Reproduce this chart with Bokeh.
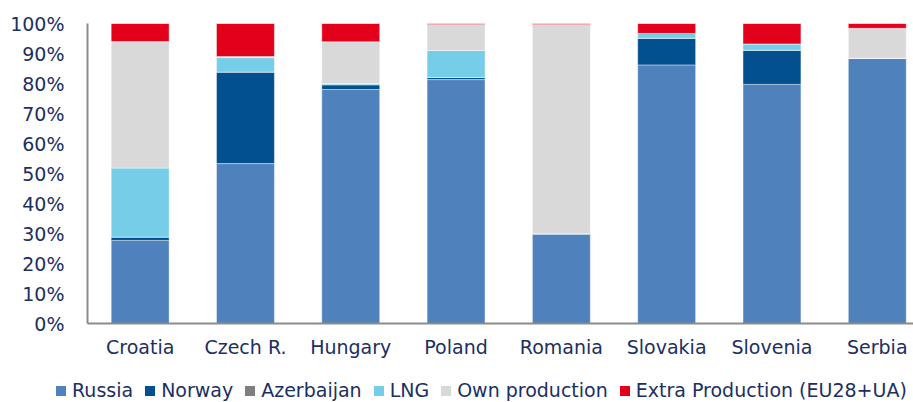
from bokeh.plotting import figure
from bokeh.layouts import column
from bokeh.models import Range1d, FixedTicker, ColumnDataSource, Div
from bokeh.embed import file_html
from bokeh.resources import INLINE

countries = ["Croatia", "Czech R.", "Hungary", "Poland", "Romania", "Slovakia", "Slovenia", "Serbia"]
russia = [27.7, 53.3, 78.0, 81.3, 29.9, 86.2, 79.7, 88.4]
norway = [1.1, 30.5, 1.6, 0.7, 0.0, 8.9, 11.4, 0.0]
azerbaijan = [0, 0, 0, 0, 0, 0, 0, 0]
lng = [23.0, 4.8, 0.4, 9.0, 0.0, 1.6, 2.1, 0.0]
own_production = [42.2, 0.4, 13.9, 8.7, 69.8, 0.0, 0.0, 10.0]
extra_production = [6.0, 11.0, 6.1, 0.3, 0.3, 3.3, 6.8, 1.6]

series = ["Russia", "Norway", "Azerbaijan", "LNG", "Own production", "Extra Production (EU28+UA)"]
colors = ["#4F81BD", "#02508F", "#7F7F7F", "#75CDE8", "#D9D9D9", "#E2001A"]
y_ticks = list(range(0, 101, 10))

FONT = "DejaVu Sans"
TXT = "#1B2F63"

data = {"x": list(range(len(countries))), "Russia": russia, "Norway": norway,
        "Azerbaijan": azerbaijan, "LNG": lng, "Own production": own_production,
        "Extra Production (EU28+UA)": extra_production}
src = ColumnDataSource(data)

p = figure(width=913, height=380, x_range=Range1d(-0.5, 7.344), y_range=Range1d(0, 100),
           output_backend="svg", toolbar_location=None,
           min_border_left=87, min_border_right=0, min_border_top=23, min_border_bottom=57)
p.outline_line_color = None
p.xgrid.grid_line_color = None
p.ygrid.grid_line_color = None

rs = p.vbar_stack(series, x="x", width=0.55, source=src, color=colors,
                  line_color="white", line_width=0.6, line_alpha=0.7)

p.xaxis.ticker = FixedTicker(ticks=list(range(len(countries))))
p.xaxis.major_label_overrides = {i: c for i, c in enumerate(countries)}
p.yaxis.ticker = FixedTicker(ticks=y_ticks)
p.yaxis.major_label_overrides = {t: f"{t}%" for t in y_ticks}

for ax in (p.xaxis[0], p.yaxis[0]):
    ax.axis_line_color = "#8C8C8C"
    ax.axis_line_width = 2
    ax.major_tick_line_color = None
    ax.minor_tick_line_color = None
    ax.major_label_text_font = FONT
    ax.major_label_text_font_size = "19px"
    ax.major_label_text_color = TXT
p.xaxis.major_label_standoff = 6
p.yaxis.major_label_standoff = 17

# legend (HTML strip below the chart)
items_html = "".join(
    f'<span style="display:inline-block;width:10px;height:10px;background:{c};'
    f'margin-right:6px;flex:none"></span>'
    f'<span style="margin-right:12px;flex:none">{s}</span>'
    for s, c in zip(series, colors)
)
legend_html = (
    f'<div style="display:flex;align-items:center;white-space:nowrap;height:22px;'
    f'font-family:\'{FONT}\';font-size:19px;color:{TXT};padding-left:56px;margin:0">'
    f'{items_html}</div>'
)
legend = Div(text=legend_html, width=913, height=22, margin=(0, 0, 0, 0))

layout = column(p, legend, spacing=0)
open("out.html", "w").write(file_html(layout, INLINE))
